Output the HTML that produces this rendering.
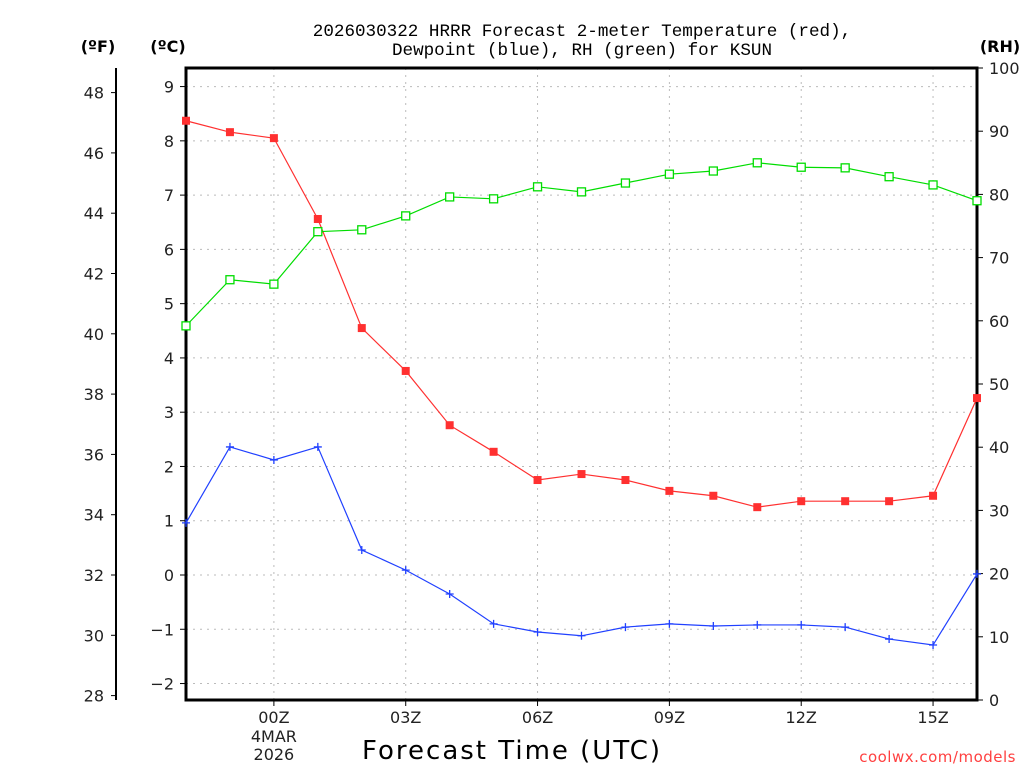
<!DOCTYPE html>
<html><head><meta charset="utf-8"><style>
body{margin:0;background:#fff}
svg{display:block;font-family:"DejaVu Sans","Liberation Sans",sans-serif}
</style></head><body>
<svg id="chart" width="1024" height="768" viewBox="0 0 1024 768" xmlns="http://www.w3.org/2000/svg">
<g id="grid"></g>
<g id="axes"></g>
<g id="series"></g>
<text x="582" y="36" font-size="17.6" text-anchor="middle" font-family="Liberation Mono, monospace">2026030322 HRRR Forecast 2-meter Temperature (red),</text>
<text x="582" y="55" font-size="17.6" text-anchor="middle" font-family="Liberation Mono, monospace">Dewpoint (blue), RH (green) for KSUN</text>
<text x="98" y="52" font-size="16" font-weight="bold" text-anchor="middle">(ºF)</text>
<text x="168" y="52" font-size="16" font-weight="bold" text-anchor="middle">(ºC)</text>
<text x="1000" y="52" font-size="16" font-weight="bold" text-anchor="middle">(RH)</text>
<text x="512" y="759" font-size="26" text-anchor="middle" letter-spacing="2">Forecast Time (UTC)</text>
<text x="1016" y="762" font-size="15" fill="#ff4040" text-anchor="end" letter-spacing="0.5">coolwx.com/models</text>
</svg>
<script>
const hours=[-2,-1,0,1,2,3,4,5,6,7,8,9,10,11,12,13,14,15,16];
const tempC=[8.37,8.16,8.05,6.56,4.55,3.76,2.76,2.27,1.75,1.86,1.75,1.55,1.46,1.25,1.36,1.36,1.36,1.46,3.26];
const dewC=[0.96,2.36,2.12,2.36,0.46,0.09,-0.35,-0.90,-1.05,-1.12,-0.96,-0.90,-0.94,-0.92,-0.92,-0.96,-1.18,-1.29,0.02];
const rh=[59.2,66.5,65.8,74.1,74.4,76.6,79.6,79.3,81.2,80.4,81.8,83.2,83.7,85.0,84.3,84.2,82.8,81.5,79.0];
const cTicks=[-2,-1,0,1,2,3,4,5,6,7,8,9];
const fTicks=[28,30,32,34,36,38,40,42,44,46,48];
const rhTicks=[0,10,20,30,40,50,60,70,80,90,100];
const xTicks=[0,3,6,9,12,15];
const xLabels=["00Z","03Z","06Z","09Z","12Z","15Z"];
const L=186,R=977,T=68,B=700;
const x=h=>L+(h+2)*(R-L)/18;
const yc=c=>575-c*54.27;
const yf=f=>yc((f-32)/1.8);
const yr=r=>B-r*(B-T)/100;
const NS="http://www.w3.org/2000/svg";
function mk(p,t,a){const e=document.createElementNS(NS,t);for(const k in a)e.setAttribute(k,a[k]);document.getElementById(p).appendChild(e);return e;}
function txt(p,s,a){const e=mk(p,'text',a);e.textContent=s;return e;}
cTicks.forEach(c=>{const l=mk('grid','line',{x1:L,x2:R,y1:yc(c),y2:yc(c),stroke:'#bbb','stroke-dasharray':'2,5'});


const tk=mk('axes','line',{x1:L-6,x2:L,y1:yc(c),y2:yc(c),stroke:'#000'});


const t=txt('axes',c<0?'\u2212'+(-c):String(c),{x:L-12,y:yc(c)+6,'font-size':16,'text-anchor':'end',fill:'#222'});

});
xTicks.forEach((h,i)=>{const l=mk('grid','line',{x1:x(h),x2:x(h),y1:T,y2:B,stroke:'#bbb','stroke-dasharray':'2,5'});


const tk=mk('axes','line',{x1:x(h),x2:x(h),y1:B,y2:B+6,stroke:'#000'});


const t=txt('axes',xLabels[i],{x:x(h),y:B+23,'font-size':16,'text-anchor':'middle',fill:'#222'});

});
const d1=txt('axes','4MAR',{x:x(0),y:B+42,'font-size':16,'text-anchor':'middle',fill:'#222'});


const d2=txt('axes','2026',{x:x(0),y:B+60,'font-size':16,'text-anchor':'middle',fill:'#222'});


fTicks.forEach(f=>{const tk=mk('axes','line',{x1:111,x2:116,y1:yf(f),y2:yf(f),stroke:'#000'});


const t=txt('axes',String(f),{x:104,y:yf(f)+6,'font-size':16,'text-anchor':'end',fill:'#222'});

});
rhTicks.forEach(r=>{const tk=mk('axes','line',{x1:R,x2:R+6,y1:yr(r),y2:yr(r),stroke:'#000'});


const t=txt('axes',String(r),{x:R+12,y:yr(r)+6,'font-size':16,'text-anchor':'start',fill:'#222'});

});
const fa=mk('axes','line',{x1:116,x2:116,y1:T,y2:B,stroke:'#000','stroke-width':2});


const fr=mk('axes','rect',{x:L,y:T,width:R-L,height:B-T,fill:'none',stroke:'#000','stroke-width':3});


function line(vals,fy,col,name){const pts=vals.map((v,i)=>x(hours[i])+','+fy(v)).join(' ');
const p=mk('series','polyline',{points:pts,fill:'none',stroke:col,'stroke-width':1.2});

}
line(tempC,yc,'#ff3030','temperature');
line(dewC,yc,'#2040ff','dewpoint');
line(rh,yr,'#00dd00','rh');
tempC.forEach((v,i)=>{const m=mk('series','rect',{x:x(hours[i])-4,y:yc(v)-4,width:8,height:8,fill:'#ff3030'});

});
dewC.forEach((v,i)=>{const X=x(hours[i]),Y=yc(v);const m=mk('series','path',{d:`M${X-4},${Y}H${X+4}M${X},${Y-4}V${Y+4}`,stroke:'#2040ff','stroke-width':1.3});

});
rh.forEach((v,i)=>{const m=mk('series','rect',{x:x(hours[i])-4,y:yr(v)-4,width:8,height:8,fill:'#fff',stroke:'#00dd00','stroke-width':1.3});

});
</script>
</body></html>
